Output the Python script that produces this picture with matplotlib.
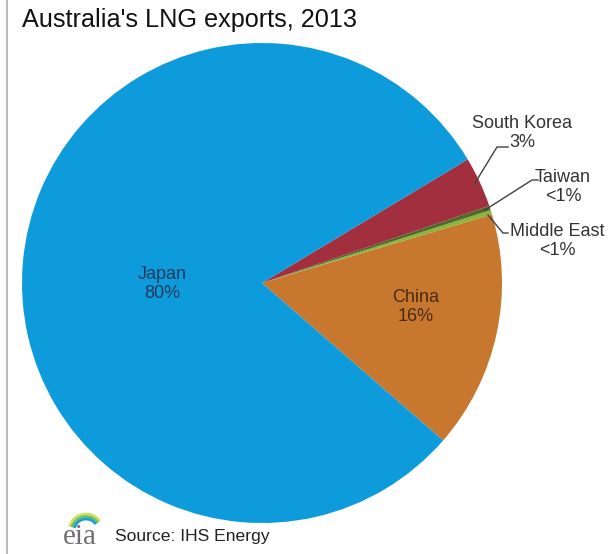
import matplotlib.pyplot as plt
from matplotlib.patches import Arc

plt.rcParams['font.family'] = ['Liberation Sans', 'DejaVu Sans']

# export shares, in per cent
countries = ['China', 'Middle East', 'Taiwan', 'South Korea', 'Japan']
shares = [16.0, 0.3, 0.3, 3.4, 80.0]
labels = ['16%', '<1%', '<1%', '3%', '80%']
colors = ['#C8782E', '#8DB43C', '#4E6B2A', '#A22F3E', '#0E9BDB']

fig = plt.figure(figsize=(6.11, 5.54), dpi=100)
ax = fig.add_axes([0, 0, 1, 1])

# work in pixel units, y measured from the bottom
H = 554
cx, cy, r = 262, H - 283, 240
ax.pie(shares, colors=colors, startangle=-41, counterclock=True,
       center=(cx, cy), radius=r, frame=True,
       wedgeprops=dict(linewidth=0))
ax.set_xlim(0, 611)
ax.set_ylim(0, H)
ax.set_aspect('equal')
ax.axis('off')

fs = 13
# labels inside the two big slices
ax.text(162, H - 284, countries[4] + '\n' + labels[4], ha='center', va='center',
        fontsize=fs, color='#1F3A5F', linespacing=1.1)
ax.text(416, H - 307, countries[0] + '\n' + labels[0], ha='center', va='center',
        fontsize=fs, color='#4A2A10', linespacing=1.1)

# leader lines for the small slices
lc = '#404040'
ax.plot([475, 497, 508], [H - 183, H - 147, H - 147], color=lc, lw=1)
ax.text(522, H - 133, countries[3] + '\n' + labels[3], ha='center', va='center',
        fontsize=fs, color='#333333', linespacing=1.1)
ax.plot([485, 532, 538], [H - 210, H - 180, H - 180], color=lc, lw=1)
ax.text(563, H - 187, countries[2] + '\n' + labels[2], ha='center', va='center',
        fontsize=fs, color='#333333', linespacing=1.1)
ax.plot([488, 503, 508], [H - 215, H - 233, H - 233], color=lc, lw=1)
ax.text(557, H - 241, countries[1] + '\n' + labels[1], ha='center', va='center',
        fontsize=fs, color='#333333', linespacing=1.1)

# title
ax.text(22, H - 20, "Australia's LNG exports, 2013", ha='left', va='center',
        fontsize=18.2, color='#111111')

# left border line
ax.plot([7, 7], [0, H], color='#BBBBBB', lw=1.5)

# eia logo and source
ax.text(63, H - 537, 'eia', ha='left', va='center', fontsize=21,
        family='Liberation Serif', color='#6D6E71')
for rad, c in zip([17, 14.5, 12], ['#D2E05A', '#6CC070', '#1A9FD0']):
    ax.add_patch(Arc((86, H - 531), 2 * rad, 2 * rad, theta1=35, theta2=165,
                     color=c, lw=2))
ax.text(115, H - 536, 'Source: IHS Energy', ha='left', va='center',
        fontsize=12.6, color='#222222')

fig.savefig('out.png', dpi=100)
